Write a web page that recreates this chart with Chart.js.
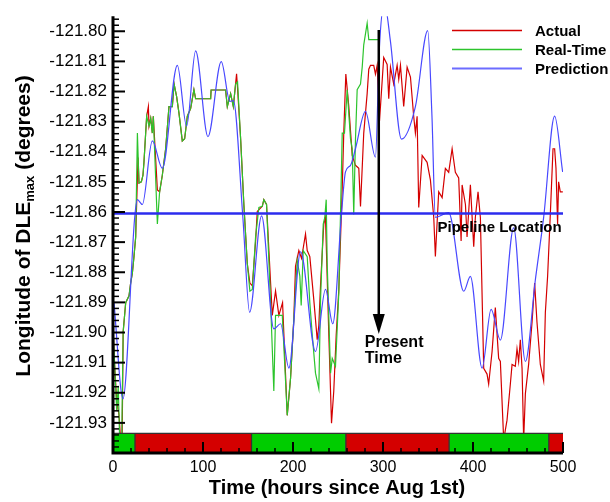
<!DOCTYPE html>
<html>
<head>
<meta charset="utf-8">
<script src="https://cdn.jsdelivr.net/npm/chart.js@4.4.1/dist/chart.umd.min.js"></script>
<style>
  body { margin: 0; background: #fff; }
  canvas { display: block; }
</style>
</head>
<body>
<canvas id="dleChart" width="610" height="502"></canvas>
<script>
// Values (hours since Aug 1st, longitude in degrees)
const actualHours = [0.2, 1.9, 4.1, 6.7, 8.5, 10.2, 11.3, 14.1, 17.8, 19.6, 21.5, 23.3, 25.2, 27.8, 28.9, 31.5, 33.3, 34.4, 37.4, 39.3,
  40.0, 41.9, 43.7, 44.8, 49.3, 51.8, 54.8, 58.5, 62.2, 65.9, 67.9, 70.7, 73.3, 77.0, 79.6, 82.6, 86.3, 89.9, 91.8, 108.5,
  109.0, 125.1, 127.0, 130.7, 133.7, 136.2, 137.3, 138.4, 141.8, 145.4, 149.2, 152.1, 154.8, 158.4, 160.3, 165.9, 167.6, 170.6, 173.4, 177.0,
  180.6, 184.3, 188.4, 193.6, 197.3, 200.9, 202.8, 206.5, 209.5, 213.9, 215.8, 218.7, 223.1, 226.9, 228.7, 230.6, 234.2, 236.1, 239.8, 242.8,
  245.3, 248.0, 250.9, 254.7, 256.4, 258.7, 262.0, 265.8, 269.4, 273.1, 275.0, 278.6, 282.4, 284.2, 286.1, 289.7, 291.6, 293.5, 296.1, 300.8,
  304.6, 306.4, 308.3, 311.9, 315.7, 317.5, 319.4, 323.0, 326.8, 330.5, 334.1, 336.0, 337.9, 339.7, 343.5, 349.0, 352.7, 356.4, 358.2, 361.9,
  365.7, 369.3, 373.0, 376.8, 380.4, 384.1, 386.8, 387.9, 391.6, 393.4, 397.1, 400.8, 402.6, 405.6, 408.2, 411.9, 415.6, 417.4, 421.2, 424.8,
  428.5, 430.4, 434.1, 437.8, 441.5, 443.4, 447.0, 448.9, 450.7, 452.6, 454.5, 456.3, 458.2, 461.8, 465.6, 468.5, 471.1, 474.8, 478.5, 480.4,
  482.9, 485.9, 488.9, 490.7, 492.2, 494.0, 495.1, 497.0, 499.8];
const actualLon = [-121.8998, -121.9112, -121.9226, -121.9275, -121.9356, -121.9340, -121.8998, -121.8901, -121.8878, -121.8836, -121.8803, -121.8748, -121.8683, -121.8419, -121.8504, -121.8500, -121.8478, -121.8435, -121.8282, -121.8250,
  -121.8315, -121.8289, -121.8338, -121.8282, -121.8527, -121.8533, -121.8478, -121.8390, -121.8250, -121.8250, -121.8175, -121.8217, -121.8272, -121.8364, -121.8357, -121.8282, -121.8256, -121.8194, -121.8224, -121.8224,
  -121.8195, -121.8195, -121.8250, -121.8207, -121.8250, -121.8175, -121.8141, -121.8190, -121.8357, -121.8575, -121.8771, -121.8836, -121.8845, -121.8700, -121.8598, -121.8581, -121.8559, -121.8575, -121.8738, -121.8943,
  -121.8862, -121.8943, -121.8901, -121.9275, -121.9151, -121.8956, -121.8780, -121.8728, -121.8754, -121.8673, -121.8728, -121.8748, -121.8891, -121.9024, -121.8976, -121.8842, -121.8640, -121.8618, -121.9008, -121.9301,
  -121.9194, -121.9008, -121.8858, -121.8520, -121.8338, -121.8142, -121.8250, -121.8412, -121.8445, -121.8455, -121.8582, -121.8338, -121.8207, -121.8126, -121.8113, -121.8113, -121.8142, -121.8113, -121.8299, -121.8087,
  -121.8110, -121.8224, -121.8119, -121.8175, -121.8113, -121.8159, -121.8113, -121.8250, -121.8119, -121.8152, -121.8282, -121.8338, -121.8282, -121.8585, -121.8412, -121.8435, -121.8494, -121.8618, -121.8748, -121.8533,
  -121.8552, -121.8455, -121.8468, -121.8390, -121.8468, -121.8487, -121.8696, -121.8510, -121.8575, -121.8683, -121.8510, -121.8715, -121.8618, -121.8533, -121.8618, -121.9119, -121.9138, -121.9171, -121.9063, -121.8917,
  -121.9086, -121.9096, -121.9356, -121.9291, -121.9171, -121.9106, -121.9112, -121.9054, -121.9096, -121.9024, -121.9119, -121.9356, -121.9203, -121.9106, -121.8966, -121.8836, -121.8966, -121.9106, -121.9161, -121.8933,
  -121.8813, -121.8608, -121.8390, -121.8390, -121.8455, -121.8640, -121.8500, -121.8533, -121.8533];

const realTimeHours = [0.2, 1.9, 4.1, 5.8, 7.4, 9.7, 11.3, 14.1, 17.8, 19.6, 21.5, 23.3, 25.2, 27.1, 28.9, 31.5, 33.3, 34.4, 37.4, 40.0,
  41.9, 43.7, 44.8, 49.3, 51.8, 54.8, 58.5, 62.2, 65.9, 67.9, 70.7, 73.3, 77.0, 79.6, 82.6, 86.3, 89.9, 91.8, 108.5, 109.0,
  125.1, 127.0, 130.7, 133.7, 136.2, 138.4, 141.8, 145.4, 149.2, 152.1, 154.8, 158.4, 162.1, 165.9, 167.6, 170.6, 175.1, 178.7, 180.6, 188.1,
  193.6, 197.3, 200.9, 202.8, 204.7, 207.6, 209.1, 211.4, 215.8, 218.7, 221.4, 225.0, 228.7, 230.6, 233.6, 235.3, 236.9, 238.0, 241.7, 243.6,
  247.2, 250.9, 254.7, 257.2, 260.2, 263.9, 265.8, 267.5, 269.4, 271.3, 275.0, 276.9, 278.6, 282.4, 284.2, 295.3];
const realTimeLon = [-121.8998, -121.9112, -121.9259, -121.9177, -121.9356, -121.9356, -121.8998, -121.8901, -121.8878, -121.8836, -121.8803, -121.8748, -121.8683, -121.8338, -121.8504, -121.8500, -121.8478, -121.8435, -121.8282, -121.8315,
  -121.8289, -121.8338, -121.8282, -121.8640, -121.8533, -121.8478, -121.8390, -121.8250, -121.8250, -121.8175, -121.8217, -121.8272, -121.8364, -121.8357, -121.8282, -121.8256, -121.8194, -121.8224, -121.8224, -121.8195,
  -121.8195, -121.8250, -121.8207, -121.8250, -121.8175, -121.8168, -121.8357, -121.8575, -121.8771, -121.8863, -121.8857, -121.8683, -121.8585, -121.8581, -121.8559, -121.8575, -121.8901, -121.9194, -121.8943, -121.8943,
  -121.9275, -121.9151, -121.8956, -121.8858, -121.8761, -121.8813, -121.8910, -121.8728, -121.8748, -121.8901, -121.9008, -121.9135, -121.9187, -121.8891, -121.8640, -121.8618, -121.8559, -121.8771, -121.9135, -121.9086,
  -121.9112, -121.8868, -121.8338, -121.8338, -121.8194, -121.8357, -121.8390, -121.8608, -121.8360, -121.8194, -121.8175, -121.8119, -121.8045, -121.7973, -121.8028, -121.8028];

const predictionHours = [1.1, 11.1, 24.1, 27.1, 32.6, 43.7, 54.8, 71.5, 81.8, 91.8, 105.5, 120.3, 129.9, 133.7, 144.3, 151.8, 165.1, 178.7, 186.2, 195.4,
  208.4, 225.0, 236.1, 244.2, 253.6, 258.3, 263.9, 269.4, 280.5, 291.6, 296.0, 301.6, 308.2, 320.5, 336.0, 349.7, 354.4, 358.2, 373.0, 389.7,
  397.1, 410.1, 420.1, 430.4, 445.2, 458.2, 469.3, 478.5, 490.7, 499.6];
const predictionLon = [-121.8901, -121.9220, -121.8618, -121.8559, -121.8575, -121.8364, -121.8455, -121.8113, -121.8315, -121.8065, -121.8350, -121.8101, -121.8233, -121.8230, -121.8618, -121.8933, -121.8613, -121.8988, -121.8971, -121.9118,
  -121.8732, -121.9063, -121.8857, -121.8971, -121.8618, -121.8467, -121.8445, -121.8390, -121.8266, -121.8418, -121.8054, -121.7908, -121.8032, -121.8358, -121.8250, -121.7998, -121.8282, -121.8618, -121.8602, -121.8863,
  -121.8814, -121.9118, -121.8923, -121.9025, -121.8653, -121.9096, -121.8825, -121.8618, -121.8282, -121.8467];

const pipelineLon = -121.8605;
const presentTime = 295.3;

const yTickValues = [-121.80, -121.81, -121.82, -121.83, -121.84, -121.85, -121.86, -121.87, -121.88, -121.89, -121.90, -121.91, -121.92, -121.93];
const xTickValues = [0, 100, 200, 300, 400, 500];

// operating windows shown in the strip along the bottom
const windowEdges = [0, 24.4, 153.9, 258.7, 373.5, 484.2, 500];
const windowStatus = ['go', 'stop', 'go', 'stop', 'go', 'stop'];

const FONT = '"Liberation Sans", Arial, Helvetica, sans-serif';
const RED = '#d40000';
const GREEN = '#2cc42c';
const BLUE = '#4848ff';

function toPoints(xs, ys) {
    return xs.map((h, i) => ({ x: h, y: ys[i] }));
}

const decorations = {
    id: 'decorations',
    afterDatasetsDraw(chart) {
        const { ctx, chartArea: a, scales: { x, y } } = chart;
        const top = y.getPixelForValue(-121.9335);
        ctx.save();
        for (let i = 0; i < windowStatus.length; i++) {
            const x0 = x.getPixelForValue(windowEdges[i]);
            const x1 = x.getPixelForValue(windowEdges[i + 1]);
            ctx.fillStyle = windowStatus[i] === 'go' ? '#00cc00' : '#d40000';
            ctx.fillRect(x0, top, x1 - x0, a.bottom - top);
        }
        ctx.strokeStyle = '#333';
        ctx.lineWidth = 1.3;
        ctx.beginPath();
        ctx.moveTo(a.left, top);
        ctx.lineTo(a.right, top);
        for (let i = 1; i < windowEdges.length - 1; i++) {
            const xp = x.getPixelForValue(windowEdges[i]);
            ctx.moveTo(xp, top);
            ctx.lineTo(xp, a.bottom);
        }
        ctx.stroke();
        ctx.restore();
    },
    afterDraw(chart) {
        const { ctx, chartArea: a, scales: { x, y } } = chart;
        ctx.save();
        ctx.strokeStyle = '#000';
        ctx.fillStyle = '#000';

        // inward ticks on the left axis (minor every 0.002)
        const kMin = Math.ceil(Math.round(y.min * 10000) / 20);
        const kMax = Math.floor(Math.round(y.max * 10000) / 20);
        for (let k = kMin; k <= kMax; k++) {
            const py = y.getPixelForValue(k * 0.002);
            const major = k % 5 === 0;
            ctx.lineWidth = major ? 2 : 1.5;
            ctx.beginPath();
            ctx.moveTo(a.left, py);
            ctx.lineTo(a.left + (major ? 12 : 6), py);
            ctx.stroke();
        }
        // inward ticks on the bottom axis (minor every 20 h)
        for (let h = 0; h <= 500; h += 20) {
            const px = x.getPixelForValue(h);
            const major = h % 100 === 0;
            ctx.lineWidth = major ? 2 : 1.5;
            ctx.beginPath();
            ctx.moveTo(px, a.bottom);
            ctx.lineTo(px, a.bottom - (major ? 11 : 5));
            ctx.stroke();
        }
        // axis lines
        ctx.lineWidth = 3;
        ctx.beginPath();
        ctx.moveTo(a.left, a.top);
        ctx.lineTo(a.left, a.bottom + 1.5);
        ctx.moveTo(a.left - 1.5, a.bottom);
        ctx.lineTo(a.right, a.bottom);
        ctx.stroke();

        // present time arrow
        const ax = x.getPixelForValue(presentTime);
        const aTop = y.getPixelForValue(-121.7996);
        const aTip = y.getPixelForValue(-121.9005);
        ctx.lineWidth = 2.5;
        ctx.beginPath();
        ctx.moveTo(ax, aTop);
        ctx.lineTo(ax, aTip - 16);
        ctx.stroke();
        ctx.beginPath();
        ctx.moveTo(ax - 6, aTip - 20);
        ctx.lineTo(ax + 6, aTip - 20);
        ctx.lineTo(ax, aTip);
        ctx.closePath();
        ctx.fill();

        ctx.textAlign = 'left';
        ctx.textBaseline = 'alphabetic';
        ctx.font = 'bold 16px ' + FONT;
        ctx.fillText('Present', ax - 14, aTip + 13);
        ctx.fillText('Time', ax - 14, aTip + 29);

        ctx.font = 'bold 15px ' + FONT;
        ctx.fillText('Pipeline Location', 437.5, y.getPixelForValue(pipelineLon) + 18);

        // legend
        const legend = [['Actual', RED], ['Real-Time', GREEN], ['Prediction', '#6c6cff']];
        legend.forEach(([label, color], i) => {
            const ly = 30.5 + i * 19;
            ctx.strokeStyle = color;
            ctx.lineWidth = i === 2 ? 2 : 1.5;
            ctx.beginPath();
            ctx.moveTo(452, ly);
            ctx.lineTo(522, ly);
            ctx.stroke();
            ctx.fillStyle = '#000';
            ctx.fillText(label, 535, ly + 5);
        });

        // axis titles
        ctx.font = 'bold 20px ' + FONT;
        ctx.textAlign = 'center';
        ctx.fillText('Time (hours since Aug 1st)', 337, 494);

        ctx.translate(30, 226);
        ctx.rotate(-Math.PI / 2);
        ctx.textAlign = 'left';
        const partA = 'Longitude of DLE';
        const partB = 'max';
        const partC = ' (degrees)';
        ctx.font = 'bold 21px ' + FONT;
        const wA = ctx.measureText(partA).width;
        const wC = ctx.measureText(partC).width;
        ctx.font = 'bold 13px ' + FONT;
        const wB = ctx.measureText(partB).width;
        let sx = -(wA + wB + wC) / 2;
        ctx.font = 'bold 21px ' + FONT;
        ctx.fillText(partA, sx, 0);
        sx += wA;
        ctx.font = 'bold 13px ' + FONT;
        ctx.fillText(partB, sx, 4);
        sx += wB;
        ctx.font = 'bold 21px ' + FONT;
        ctx.fillText(partC, sx, 0);
        ctx.restore();
    }
};

new Chart(document.getElementById('dleChart'), {
    type: 'line',
    data: {
        datasets: [
            {
                label: 'Pipeline Location',
                data: [{ x: 0, y: pipelineLon }, { x: 500, y: pipelineLon }],
                borderColor: '#2c2cee',
                borderWidth: 2.5,
                pointRadius: 0,
                order: 0
            },
            {
                label: 'Prediction',
                data: toPoints(predictionHours, predictionLon),
                borderColor: BLUE,
                borderWidth: 1.2,
                pointRadius: 0,
                cubicInterpolationMode: 'monotone',
                order: 1
            },
            {
                label: 'Real-Time',
                data: toPoints(realTimeHours, realTimeLon),
                borderColor: GREEN,
                borderWidth: 1.2,
                pointRadius: 0,
                tension: 0,
                order: 2
            },
            {
                label: 'Actual',
                data: toPoints(actualHours, actualLon),
                borderColor: RED,
                borderWidth: 1.2,
                pointRadius: 0,
                tension: 0,
                order: 3
            }
        ]
    },
    options: {
        responsive: false,
        animation: false,
        layout: { padding: { left: 0, right: 47, top: 7, bottom: 0 } },
        plugins: {
            legend: { display: false },
            tooltip: { enabled: false }
        },
        scales: {
            x: {
                type: 'linear',
                min: 0,
                max: 500,
                grid: { display: false, drawTicks: false },
                border: { display: false },
                afterBuildTicks: function(scale) {
                    scale.ticks = xTickValues.map(v => ({ value: v }));
                },
                afterFit: function(scale) { scale.height = 49; },
                ticks: {
                    padding: 5,
                    color: '#000',
                    autoSkip: false,
                    maxRotation: 0,
                    font: { family: FONT, size: 16 },
                    callback: v => String(v)
                }
            },
            y: {
                type: 'linear',
                min: -121.94,
                max: -121.795,
                grid: { display: false, drawTicks: false },
                border: { display: false },
                afterBuildTicks: function(scale) {
                    scale.ticks = yTickValues.map(v => ({ value: v }));
                },
                afterFit: function(scale) { scale.width = 113; },
                ticks: {
                    padding: 6,
                    color: '#000',
                    autoSkip: false,
                    font: { family: FONT, size: 17 },
                    callback: v => v.toFixed(2)
                }
            }
        }
    },
    plugins: [decorations]
});
</script>
</body>
</html>
